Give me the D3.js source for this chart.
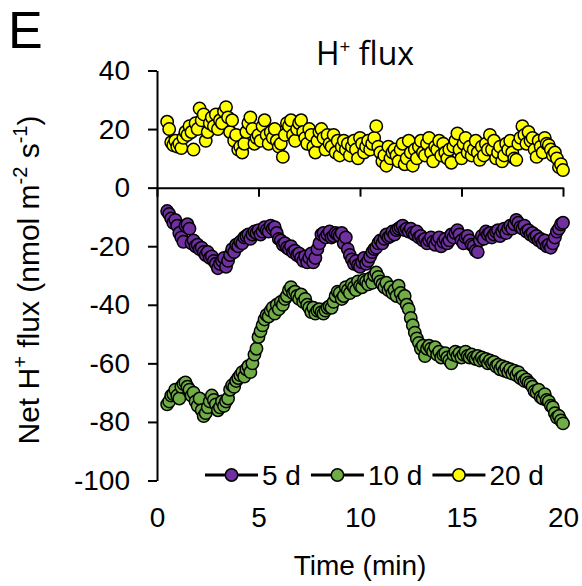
<!DOCTYPE html>
<html><head><meta charset="utf-8">
<script src="https://cdn.jsdelivr.net/npm/d3@7"></script>
<style>
body{margin:0;background:#fff}
svg{display:block}
text{font-family:"Liberation Sans",Arial,sans-serif;fill:#000}
</style>
</head><body><svg id="c" width="582" height="586"></svg>
<script>
const seriesNames = ["5 d", "10 d", "20 d"];
const startTime = 0.5, timeStep = 0.1; // sampling every 6 s
const flux5d = [
 -8, -9, -10.5, -12, -11, -13, -15.5, -17, -18.5, -13,
 -12.5, -14, -19, -18, -20, -19.5, -21, -20.5, -22, -23,
 -22, -24, -23.5, -25, -26, -27.5, -26, -25, -24, -27,
 -25, -23, -21, -22, -19.5, -20, -18.5, -19, -17, -16.5,
 -16, -17.5, -16, -15, -15.5, -14.5, -16, -15, -13.5, -14.5,
 -15, -13, -14, -13.5, -15.5, -17.5, -18, -19.5, -19, -20.5,
 -21, -20, -22, -21.5, -23, -22.5, -24, -25, -23.5, -25.5,
 -24, -22.5, -25.5, -24, -21, -19, -16, -15.5, -17, -16,
 -15, -17, -16.5, -15.5, -16, -16.5, -15.5, -19, -17, -21,
 -23, -24.5, -26, -25, -26.5, -27, -25.5, -24, -26, -25,
 -23.5, -22, -21, -20.5, -19, -18, -19, -17.5, -16, -17,
 -16.5, -15, -16, -14.5, -14, -13.5, -13, -14.5, -14, -15,
 -14, -15.5, -16, -15, -17, -16.5, -18, -17.5, -19, -18,
 -17, -18.5, -19.5, -18, -17, -20, -18.5, -17.5, -19, -18,
 -16, -17, -15.5, -14.5, -16, -18, -19, -17, -16.5, -18,
 -19.5, -20, -21.5, -22, -18, -16.5, -17.5, -15, -16, -15.5,
 -17, -16, -15, -14.5, -16.5, -15, -14, -15.5, -14, -13,
 -14, -12.5, -11, -12, -13.5, -14, -13, -15, -14.5, -16,
 -15.5, -17, -16.5, -18, -17.5, -19, -18, -20, -19.5, -20.5,
 -19, -17, -15, -14, -12.5, -12
];
const flux10d = [
 -74, -73, -71, -70.5, -69, -71, -72, -68, -67, -66.5,
 -68, -69, -71, -70, -73, -74.5, -72, -76, -78, -77,
 -75, -73, -71, -72.5, -74, -76, -75, -73, -74.5, -73,
 -72, -69, -67.5, -68, -66, -65, -64, -63, -64.5, -62,
 -61, -63, -60, -57, -55, -51, -49, -47, -45, -43.5,
 -44, -42, -41, -43, -40, -41.5, -39, -40, -38, -37,
 -35, -34, -36, -35.5, -37, -38, -36.5, -39, -38, -40,
 -41, -42.5, -41, -43, -42, -41.5, -42.5, -43, -42, -41,
 -40.5, -41, -39, -37, -35.5, -36, -38, -37, -34, -35,
 -36, -33, -34, -35, -32, -33.5, -34, -31.5, -32, -33,
 -31, -32.5, -30, -29, -30.5, -32, -33, -34, -32.5, -35,
 -34, -36, -35, -37, -33.5, -36, -38, -37, -40, -41.5,
 -44.5, -47, -49.5, -51.5, -53, -55, -54, -57.5, -55, -54,
 -55, -56, -54.5, -57, -56, -58, -57, -56.5, -58, -59,
 -60, -57, -56, -57.5, -56.5, -58, -57, -56, -57.5, -58,
 -57, -58, -58.5, -57.5, -59, -58, -59, -58.5, -60, -59,
 -60, -59.5, -61, -60.5, -62, -61, -62.5, -61.5, -63, -62,
 -63.5, -62.5, -64, -63, -65, -64.5, -66, -65.5, -66.5, -67,
 -68, -69.5, -70, -69, -71.5, -72, -70.5, -72.5, -73, -74.5,
 -75, -77, -78.5, -78, -79.5, -80.5
];
const flux20d = [
 22.5, 20, 15.5, 14.5, 16, 14, 15, 13.5, 17, 19,
 18, 21, 19, 13, 22, 20, 27, 23, 25, 16,
 19, 22, 24, 21, 25, 20, 23, 22, 26, 27.5,
 24, 19, 23, 16, 18, 13, 14, 12, 15, 19,
 22, 24, 20, 15, 17, 18, 16, 21, 23, 18,
 15, 19, 17, 20, 16, 14, 15, 10.5, 18, 22,
 21, 23, 18, 16, 20, 22, 23, 19, 17, 15,
 20, 18, 14, 12, 16, 19, 20, 17, 13, 18,
 15, 14, 18, 12, 16, 11, 14, 16, 13, 15,
 11, 14, 16, 13, 10, 17, 15, 12, 14, 16,
 13, 15, 17, 21, 14, 12, 9, 11, 7.5, 14,
 10, 12, 13, 11, 9, 13, 15, 8, 10, 16,
 12, 7.5, 13, 10, 14, 16, 12, 11, 15, 17,
 12, 9, 14, 13, 16, 11, 15, 12, 10, 13,
 8.5, 14, 16, 18.5, 13, 10, 15, 17, 12, 14,
 11, 13, 16, 12, 9.5, 14, 11, 15, 13, 18,
 13, 16, 10, 12, 14, 9, 11, 15, 13, 16,
 12, 10, 9.5, 15, 17, 21, 18, 15, 19, 16,
 17, 13, 10.5, 16, 14, 12, 17, 15, 14.5, 13,
 11, 12, 10, 7, 8, 6
];
const xTicks = [0, 5, 10, 15, 20];
const yTicks = [-100, -80, -60, -40, -20, 0, 20, 40];
const seriesColors = ["#7030A0", "#70AD47", "#FFFF00"];

const svg = d3.select("#c");
const x = d3.scaleLinear().domain([0, 20]).range([157, 563]);
const y = d3.scaleLinear().domain([-100, 40]).range([480.5, 70.5]);
const fmt = d => String(d);

const allSeries = [flux5d, flux10d, flux20d].map((vals, k) => ({
  name: seriesNames[k], color: seriesColors[k],
  points: vals.map((v, i) => ({t: startTime + i * timeStep, v}))
}));

// panel letter and title
svg.append("text").attr("x", 8).attr("y", 48).style("font-size", "52px").text("E");
const title = svg.append("text").attr("x", 365).attr("y", 65).attr("text-anchor", "middle")
  .style("font-family", "'Open Sans',sans-serif").style("font-size", "32px");
title.append("tspan").text("H");
title.append("tspan").attr("dy", -12).style("font-size", "19px").text("+");
title.append("tspan").attr("dy", 12).text(" flux");

// y axis
const yAxis = svg.append("g").attr("transform", `translate(${x(0)},0)`)
  .call(d3.axisLeft(y).tickValues(yTicks).tickSize(9).tickPadding(18).tickSizeOuter(0).tickFormat(fmt));
yAxis.selectAll("text").style("font-size", "28px").style("font-family", "'Liberation Sans',Arial,sans-serif");
yAxis.select(".domain").attr("stroke", "#000").attr("stroke-width", 2);
yAxis.selectAll(".tick line").attr("stroke", "#000").attr("stroke-width", 2);

// x axis line at zero with ticks
const xAxis = svg.append("g").attr("transform", `translate(0,${y(0)})`)
  .call(d3.axisBottom(x).tickValues(xTicks).tickSize(9).tickSizeOuter(0).tickFormat(""));
xAxis.select(".domain").attr("stroke", "#000").attr("stroke-width", 2);
xAxis.selectAll(".tick line").attr("stroke", "#000").attr("stroke-width", 2);

// x tick labels at low position
const xLab = svg.append("g").attr("transform", `translate(0,${y(-100)})`)
  .call(d3.axisBottom(x).tickValues(xTicks).tickSize(0).tickPadding(27).tickFormat(fmt));
xLab.select(".domain").remove();
xLab.selectAll("text").style("font-size", "28px").style("font-family", "'Liberation Sans',Arial,sans-serif");

// axis titles
svg.append("text").attr("x", 360).attr("y", 575).attr("text-anchor", "middle").style("font-size", "28px").text("Time (min)");
const yt = svg.append("text").attr("transform", "translate(39,280) rotate(-90)").attr("text-anchor", "middle").style("font-size", "30px");
yt.append("tspan").text("Net H");
yt.append("tspan").attr("dy", -12).style("font-size", "20px").text("+");
yt.append("tspan").attr("dy", 12).text(" flux (nmol m");
yt.append("tspan").attr("dy", -12).style("font-size", "20px").text("-2");
yt.append("tspan").attr("dy", 12).text(" s");
yt.append("tspan").attr("dy", -12).style("font-size", "20px").text("-1");
yt.append("tspan").attr("dy", 12).text(")");

// markers
const R = 6.2;
allSeries.forEach(s => {
  svg.append("g").selectAll("circle").data(s.points).join("circle")
    .attr("cx", d => x(d.t)).attr("cy", d => y(d.v)).attr("r", R)
    .attr("fill", s.color).attr("stroke", "#000").attr("stroke-width", 1.5);
});

// legend
const ly = 475;
let lx = 205;
allSeries.forEach(s => {
  const g = svg.append("g");
  g.append("line").attr("x1", lx).attr("x2", lx + 53).attr("y1", ly).attr("y2", ly)
    .attr("stroke", "#000").attr("stroke-width", 3);
  g.append("circle").attr("cx", lx + 26.5).attr("cy", ly).attr("r", R)
    .attr("fill", s.color).attr("stroke", "#000").attr("stroke-width", 1.5);
  const t = g.append("text").attr("x", lx + 57).attr("y", ly).attr("dy", "0.36em")
    .style("font-size", "28px").text(s.name);
  lx = lx + 57 + t.node().getComputedTextLength() + 10;
});
</script>
</body></html>
